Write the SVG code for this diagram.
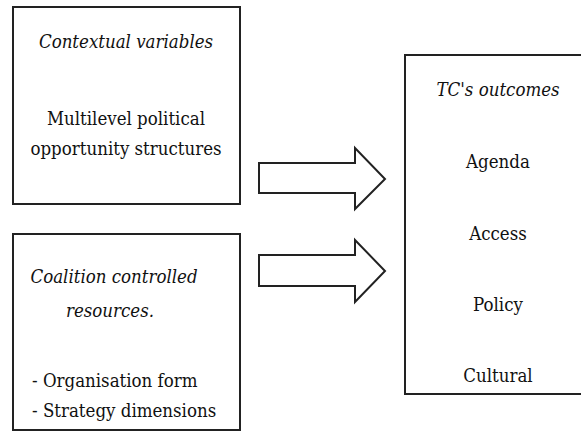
<svg xmlns="http://www.w3.org/2000/svg" width="581" height="432" viewBox="0 0 581 432">
<style>
.box{fill:#fff;stroke:#222;stroke-width:2}
.t{font-family:'DejaVu Serif Condensed','DejaVu Serif','Liberation Serif',serif;font-stretch:condensed;font-size:18.5px;fill:#111}
.i{font-style:italic}
.c{text-anchor:middle}
.arrow{fill:#fff;stroke:#222;stroke-width:2;stroke-linejoin:miter}
</style>
<rect width="581" height="432" fill="#fff"/>
<g id="contextual">
<rect class="box" x="13" y="7" width="227" height="197"/>
<text class="t i c" x="126" y="48">Contextual variables</text>
<text class="t c" x="126" y="125">Multilevel political</text>
<text class="t c" x="126" y="155">opportunity structures</text>
</g>
<g id="resources">
<rect class="box" x="13" y="234" width="227" height="196"/>
<text class="t i c" x="114" y="283">Coalition controlled</text>
<text class="t i c" x="110" y="317">resources.</text>
<text class="t" x="32" y="387">- Organisation form</text>
<text class="t" x="32" y="417">- Strategy dimensions</text>
</g>
<g id="outcomes">
<rect class="box" x="405" y="55" width="190" height="339"/>
<text class="t i c" x="498" y="96">TC's outcomes</text>
<text class="t c" x="498" y="168">Agenda</text>
<text class="t c" x="498" y="240">Access</text>
<text class="t c" x="498" y="311">Policy</text>
<text class="t c" x="498" y="382">Cultural</text>
</g>
<g id="connectors">
<path class="arrow" d="M259,163 H355 V148 L385,179 L355,209 V193 H259 Z"/>
<path class="arrow" d="M259,255 H355 V240 L385,271 L355,302 V286 H259 Z"/>
</g>
</svg>
